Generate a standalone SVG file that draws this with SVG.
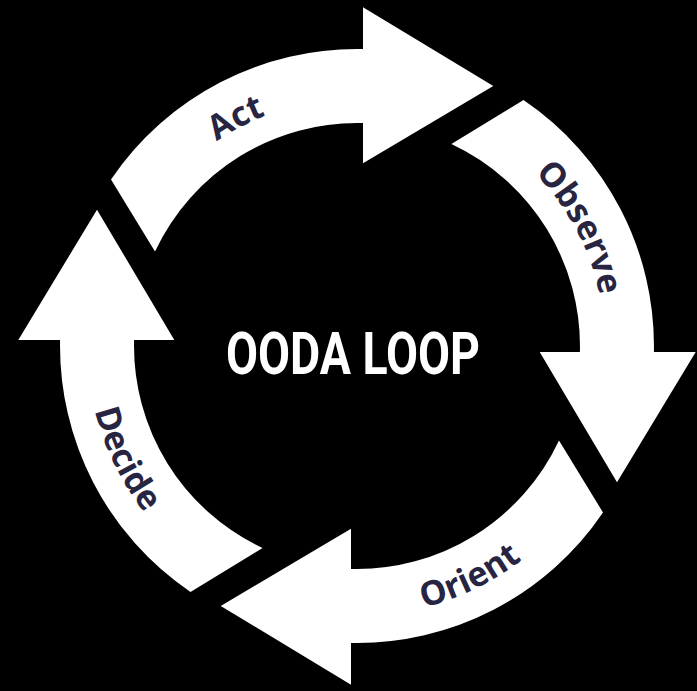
<svg xmlns="http://www.w3.org/2000/svg" xmlns:xlink="http://www.w3.org/1999/xlink" width="697" height="691" viewBox="0 0 697 691">
  <style>
    .arrow { fill: #ffffff; }
    .label { font-family: "Open Sans", "Noto Sans", "DejaVu Sans", sans-serif; font-weight: 700; font-size: 34px; fill: #272541; }
    .title { font-family: Roboto, "Liberation Sans", sans-serif; font-weight: 700; font-size: 59px; fill: #ffffff; }
  </style>
  <defs>
    <path id="arrowShape" d="M6,-338.7 L136.3,-260 L6,-182.7 L6,-222.9 A223,223 0 0 0 -202,-94.4 L-246,-166.5 A297,297 0 0 1 6,-296.9 Z"/>
    <path id="pAct" d="M114.42,294.44 A248,248 0 0 1 449.90,116.06" fill="none"/>
    <path id="pObserve" d="M408.56,103.42 A248,248 0 0 1 586.94,438.90" fill="none"/>
    <path id="pOrient" d="M247.18,592.66 A270,270 0 0 0 618.98,411.32" fill="none"/>
    <path id="pDecide" d="M110.34,236.18 A270,270 0 0 0 291.68,607.98" fill="none"/>
  </defs>
  <rect x="0" y="0" width="697" height="691" fill="#000000"/>
  <g id="act">
    <use xlink:href="#arrowShape" href="#arrowShape" class="arrow" transform="translate(357,346)"/>
    <text class="label" text-anchor="middle"><textPath xlink:href="#pAct" href="#pAct" startOffset="50%">Act</textPath></text>
  </g>
  <g id="observe">
    <use xlink:href="#arrowShape" href="#arrowShape" class="arrow" transform="translate(357,346) rotate(90)"/>
    <text class="label" text-anchor="middle"><textPath xlink:href="#pObserve" href="#pObserve" startOffset="50%">Observe</textPath></text>
  </g>
  <g id="orient">
    <use xlink:href="#arrowShape" href="#arrowShape" class="arrow" transform="translate(357,346) rotate(180)"/>
    <text class="label" text-anchor="middle"><textPath xlink:href="#pOrient" href="#pOrient" startOffset="50%">Orient</textPath></text>
  </g>
  <g id="decide">
    <use xlink:href="#arrowShape" href="#arrowShape" class="arrow" transform="translate(357,346) rotate(270)"/>
    <text class="label" text-anchor="middle"><textPath xlink:href="#pDecide" href="#pDecide" startOffset="50%">Decide</textPath></text>
  </g>
  <g id="center">
    <text class="title" x="226" y="374" textLength="254" lengthAdjust="spacingAndGlyphs">OODA LOOP</text>
  </g>
</svg>
